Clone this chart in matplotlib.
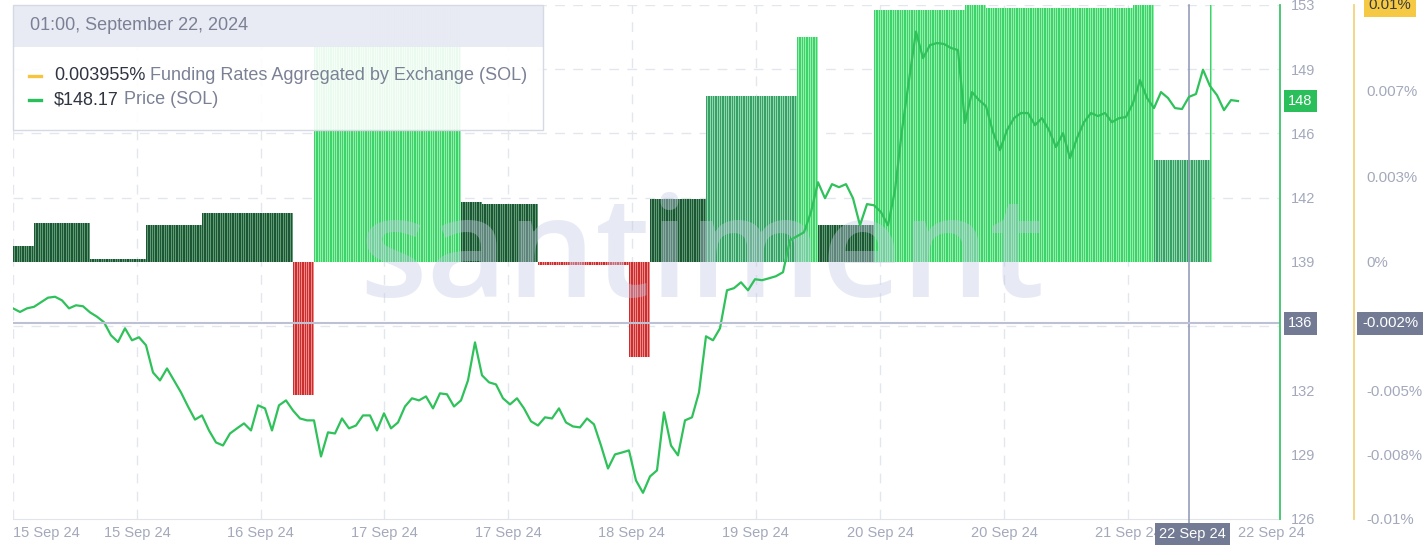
import numpy as np
import matplotlib
matplotlib.use("Agg")
import matplotlib.pyplot as plt
from matplotlib.patches import Rectangle
from matplotlib.lines import Line2D
from matplotlib.text import Annotation
from matplotlib.transforms import blended_transform_factory

# ---------------- data ----------------
# hourly SOL price, starting 15 Sep 2024 01:00
price_values = [
    137.05, 136.86, 137.05, 137.13, 137.37, 137.61, 137.66, 137.47, 137.05, 137.21,
    137.16, 136.84, 136.61, 136.32, 135.63, 135.28, 136.00, 135.37, 135.53, 135.11,
    133.68, 133.26, 133.89, 133.26, 132.63, 131.89, 131.20, 131.42, 130.63, 130.00,
    129.84, 130.47, 130.74, 131.00, 130.63, 131.95, 131.79, 130.63, 131.95, 132.21,
    131.68, 131.26, 131.16, 131.16, 129.26, 130.53, 130.47, 131.26, 130.74, 130.89,
    131.42, 131.42, 130.63, 131.53, 130.74, 131.05, 131.89, 132.32, 132.21, 132.42,
    131.79, 132.58, 132.53, 131.89, 132.21, 133.26, 135.26, 133.53, 133.16, 133.05,
    132.32, 132.00, 132.32, 131.79, 131.11, 130.89, 131.32, 131.26, 131.79, 131.05,
    130.84, 130.79, 131.26, 130.95, 129.84, 128.63, 129.37, 129.47, 129.58, 128.00,
    127.35, 128.21, 128.53, 131.58, 129.84, 129.32, 131.16, 131.32, 132.63, 135.58,
    135.37, 136.00, 138.00, 138.11, 138.42, 138.00, 138.58, 138.53, 138.63, 138.74,
    138.95, 140.63, 140.84, 141.05, 142.11, 143.68, 142.84, 143.58, 143.42, 143.58,
    142.84, 141.42, 142.53, 142.47, 142.11, 141.42, 143.26, 146.42, 149.05, 151.60,
    150.21, 150.89, 151.00, 150.95, 150.74, 150.63, 146.80, 148.42, 148.00, 147.68,
    146.32, 145.37, 146.42, 147.05, 147.32, 147.32, 146.68, 147.05, 146.42, 145.53,
    146.26, 144.95, 146.00, 146.84, 147.32, 147.16, 147.32, 146.84, 147.05, 147.11,
    147.84, 149.05, 148.11, 147.58, 148.42, 148.11, 147.58, 147.53, 148.17, 148.32,
    149.60, 148.74, 148.26, 147.47, 148.00, 147.95,
]

# aggregated funding rate (%) and how many hours each value lasted
funding_rates = [0.0006, 0.00149, 0.00012, 0.00143, 0.0019, -0.0052, 0.0084, 0.0099,
                 0.00231, 0.00225, -0.00012, -0.0037, 0.00244, 0.00644, 0.00874, 0.00144,
                 0.0098, 0.0100, 0.0099, 0.0099, 0.0100, 0.003955, 0.0100]
funding_hours = [3, 8, 8, 8, 13, 3, 8, 13, 3, 8, 13, 3, 8, 13, 3, 8, 13, 3, 8, 13, 3, 8, 1 / 3]

x_tick_hours = [0, 17.7, 35.4, 53.0, 70.7, 88.4, 106.1, 123.9, 141.6, 159.3]
x_tick_labels = ["15 Sep 24", "15 Sep 24", "16 Sep 24", "17 Sep 24", "17 Sep 24",
                 "18 Sep 24", "19 Sep 24", "20 Sep 24", "20 Sep 24", "21 Sep 24"]
last_date_label = "22 Sep 24"

price_min, price_max = 126, 153
price_ticks = [126, 129.375, 132.75, 136.125, 139.5, 142.875, 146.25, 149.625, 153]
price_tick_labels = ["126", "129", "132", "", "139", "142", "146", "149", "153"]
funding_min, funding_max = -0.01, 0.01
funding_ticks = [0.00667, 0.00333, 0, -0.005, -0.0075, -0.01]
funding_tick_labels = ["0.007%", "0.003%", "0%", "-0.005%", "-0.008%", "-0.01%"]

cross_hour = 168
cross_price = 136.26
cross_funding = -0.0024
cross_funding_label = "-0.002%"
cross_date_label = "22 Sep 24"
tooltip_title = "01:00, September 22, 2024"
tooltip_funding = "0.003955%"
tooltip_price = "$148.17"
funding_name = "Funding Rates Aggregated by Exchange (SOL)"
price_name = "Price (SOL)"

# ---------------- style ----------------
W, H = 1428, 553
FONT = "Liberation Sans"
plt.rcParams["font.family"] = [FONT, "DejaVu Sans"]

def fx(px):
    return px / W

def fy(py):
    return 1 - py / H

GREEN = "#2fc15a"
LABEL = "#a3a9bb"

fig = plt.figure(figsize=(W / 100, H / 100), dpi=100)
L, R, T, B = 12.5, 1279.5, 5, 518.5
ax = fig.add_axes([fx(L), fy(B), (R - L) / W, (B - T) / H])
ax.set_xlim(-0.07, 180.93)
ax.set_ylim(funding_min, funding_max)
ax2 = ax.twinx()
ax2.set_ylim(price_min, price_max)

# funding bars drawn as thin stripes (3 per hour)
sub_x, sub_v = [], []
t = 0.0
for v, d in zip(funding_rates, funding_hours):
    n = max(1, int(round(d * 3)))
    for i in range(n):
        sub_x.append(t + i / 3)
        sub_v.append(v)
    t += n / 3

def bar_colors(v):
    if v < 0:
        return "#c92f2f", "#f08a8a"
    if v < 0.003:
        return "#1d5634", "#5f9c74"
    if v < 0.0075:
        return "#38a065", "#8fd8b0"
    return "#3dd26a", "#93efab"

fore = [bar_colors(v)[0] for v in sub_v]
back = [bar_colors(v)[1] for v in sub_v]
ax.bar(sub_x, sub_v, width=1 / 3, align="edge", color=back, linewidth=0, zorder=1)
ax.bar(sub_x, sub_v, width=0.55 / 3, align="edge", color=fore, linewidth=0, zorder=1.1)

# watermark
ax.text(fx(702), fy(297), "santiment", transform=fig.transFigure, ha="center",
        va="baseline", fontsize=100, family="Open Sans", fontweight="semibold",
        color="#c5cbe6", alpha=0.4, zorder=1.5)

# grid
grid_f = [(p - price_min) / (price_max - price_min) * (funding_max - funding_min) + funding_min
          for p in price_ticks]
ax.set_yticks(grid_f, minor=True)
ax.set_yticks(funding_ticks)
ax.set_yticklabels(funding_tick_labels)
ax.yaxis.tick_right()
ax.grid(which="minor", axis="y", color="#e3e6ec", linestyle=(0, (7, 6)), lw=1)
ax.grid(which="major", axis="x", color="#e3e6ec", linestyle=(0, (7, 6)), lw=1)
ax.set_axisbelow(True)
ax.tick_params(axis="y", which="both", length=0, pad=62.3, labelcolor=LABEL, labelsize=10.8)
ax.set_xticks(x_tick_hours)
ax.set_xticklabels(x_tick_labels)
ax.tick_params(axis="x", length=0, pad=5.5, labelcolor=LABEL, labelsize=10.5)
ax.get_xticklabels()[0].set_ha("left")
for s in ["top", "left", "right"]:
    ax.spines[s].set_visible(False)
ax.spines["bottom"].set_color("#e1e4ea")

ax2.set_yticks(price_ticks)
ax2.set_yticklabels(price_tick_labels)
ax2.tick_params(axis="y", length=0, pad=8.3, labelcolor=LABEL, labelsize=10.5)
for s in ax2.spines.values():
    s.set_visible(False)

# price line
hours = np.arange(len(price_values))
ax2.plot(hours, price_values, color=GREEN, lw=1.6, zorder=3, solid_joinstyle="round")

# crosshair
ax.axvline(cross_hour, ymin=-0.02, ymax=1, color="#8c95b4", lw=1.1, zorder=4, clip_on=False)
ax2.axhline(cross_price, color="#bcc1d6", lw=1.5, zorder=4)

# right axis lines
fig.add_artist(Line2D([fx(1280), fx(1280)], [fy(5), fy(518.5)], color="#3dc46a", lw=1.3))
fig.add_artist(Line2D([fx(1354), fx(1354)], [fy(5), fy(518.5)], color="#f3d37c", lw=1.3))

# last date label
fig.text(fx(1271.5), fy(533), last_date_label, ha="center", va="center", color=LABEL, fontsize=10.5)

# highlighted labels
tp = blended_transform_factory(fig.transFigure, ax2.transData)
tf = blended_transform_factory(fig.transFigure, ax.transData)
fig.text(fx(1300.5), price_values[-1], f"{price_values[-1]:.0f}", transform=tp, ha="center",
         va="center", color="white", fontsize=10.5,
         bbox=dict(boxstyle="square,pad=0.3", fc="#2bbf5c", ec="none"))
fig.text(fx(1300.5), cross_price, f"{cross_price:.0f}", transform=tp, ha="center",
         va="center", color="white", fontsize=10.5,
         bbox=dict(boxstyle="square,pad=0.3", fc="#737b94", ec="none"))
fig.text(fx(1390), funding_rates[-1], "0.01%", transform=tf, ha="center", va="center",
         color="#3a3a3a", fontsize=10.8, bbox=dict(boxstyle="square,pad=0.3", fc="#f6c945", ec="none"))
fig.text(fx(1390), cross_funding, cross_funding_label, transform=tf, ha="center", va="center",
         color="white", fontsize=10.8, bbox=dict(boxstyle="square,pad=0.3", fc="#737b94", ec="none"))
fig.text(fx(1192.5), fy(534), cross_date_label, ha="center", va="center", color="white",
         fontsize=10.5, bbox=dict(boxstyle="square,pad=0.3", fc="#737b94", ec="none"))

# tooltip
fig.add_artist(Rectangle((fx(13), fy(130)), (543 - 13) / W, (130 - 5) / H, transform=fig.transFigure,
                         fc="white", alpha=0.9, ec="none"))
fig.add_artist(Rectangle((fx(13), fy(46.5)), (543 - 13) / W, (46.5 - 5) / H, transform=fig.transFigure,
                         fc="#e8eaf4", alpha=0.95, ec="none"))
fig.add_artist(Rectangle((fx(13), fy(130)), (543 - 13) / W, (130 - 5) / H, transform=fig.transFigure,
                         fc="none", ec="#d6d9e3", lw=1))
fig.text(fx(30), fy(25.5), tooltip_title, ha="left", va="center", color="#7b8195", fontsize=13)
fig.add_artist(Line2D([fx(29), fx(41)], [fy(76), fy(76)], color="#f5c542", lw=2.4))
fig.add_artist(Line2D([fx(29), fx(41)], [fy(100), fy(100)], color="#2bbf5c", lw=2.4))
t1 = fig.text(fx(54), fy(76), tooltip_funding, ha="left", va="center", color="#2f3441", fontsize=13)
fig.add_artist(Annotation(" " + funding_name, xy=(1, 0), xycoords=t1,
                          va="bottom", ha="left", color="#7b8195", fontsize=13))
t2 = fig.text(fx(54), fy(100), tooltip_price, ha="left", va="center", color="#2f3441", fontsize=13)
fig.add_artist(Annotation(" " + price_name, xy=(1, 0), xycoords=t2,
                          va="bottom", ha="left", color="#7b8195", fontsize=13))

fig.savefig("out.png", dpi=100, facecolor="white")
